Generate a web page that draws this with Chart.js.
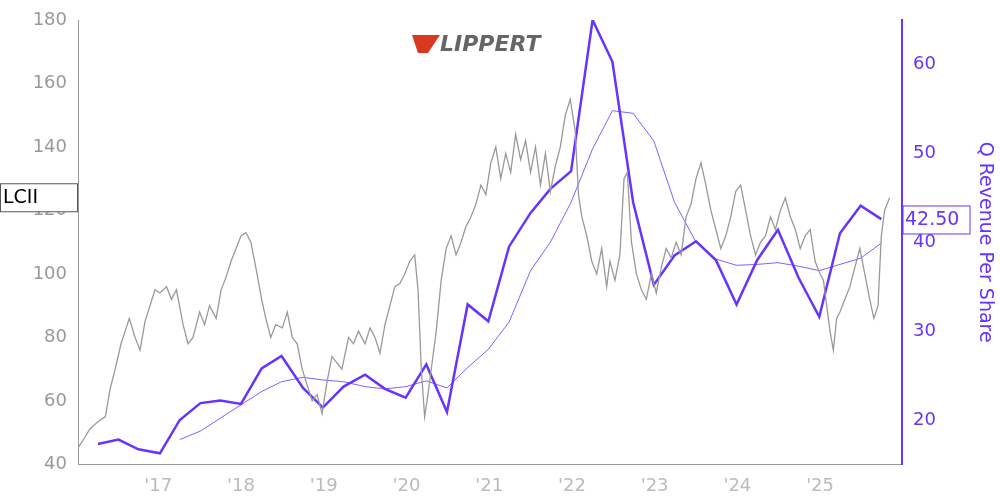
<!DOCTYPE html>
<html><head><meta charset="utf-8">
<script src="https://cdn.jsdelivr.net/npm/chart.js"></script>
<style>body{margin:0;background:#fff}#wrap{width:1000px;height:500px}</style>
</head><body><div id="wrap"><canvas id="c"></canvas></div>
<script>
// price (left axis), approx year positions
const priceX = [2016.0,2016.05,2016.1,2016.17,2016.25,2016.3,2016.36,2016.42,2016.48,2016.55,2016.6,2016.65,2016.72,2016.78,2016.84,2016.9,2016.96,2017.02,2017.1,2017.16,2017.22,2017.3,2017.36,2017.42,2017.5,2017.56,2017.62,2017.7,2017.76,2017.82,2017.88,2017.94,2018.0,2018.06,2018.12,2018.18,2018.25,2018.3,2018.36,2018.42,2018.5,2018.56,2018.62,2018.68,2018.74,2018.8,2018.86,2018.92,2018.98,2019.04,2019.1,2019.16,2019.22,2019.3,2019.36,2019.42,2019.5,2019.56,2019.62,2019.68,2019.74,2019.8,2019.86,2019.92,2019.98,2020.04,2020.1,2020.14,2020.18,2020.22,2020.26,2020.3,2020.36,2020.42,2020.48,2020.54,2020.6,2020.66,2020.72,2020.78,2020.84,2020.9,2020.96,2021.02,2021.08,2021.14,2021.2,2021.26,2021.32,2021.38,2021.44,2021.5,2021.56,2021.62,2021.68,2021.74,2021.8,2021.86,2021.92,2021.98,2022.04,2022.08,2022.12,2022.18,2022.24,2022.3,2022.36,2022.42,2022.46,2022.52,2022.58,2022.63,2022.67,2022.72,2022.78,2022.84,2022.9,2022.96,2023.02,2023.08,2023.14,2023.2,2023.26,2023.32,2023.38,2023.44,2023.5,2023.56,2023.62,2023.68,2023.74,2023.8,2023.86,2023.92,2023.98,2024.04,2024.1,2024.16,2024.22,2024.28,2024.34,2024.4,2024.46,2024.52,2024.58,2024.64,2024.7,2024.76,2024.82,2024.88,2024.94,2025.0,2025.04,2025.08,2025.12,2025.16,2025.2,2025.24,2025.3,2025.36,2025.42,2025.48,2025.54,2025.6,2025.65,2025.7,2025.74,2025.78,2025.84,2025.9,2025.96];
const priceY = [44,46,48,51,53,54,55,64,70,78,82,86,80,76,85,90,95,94,96,92,95,84,78,80,88,84,90,86,95,99,104,108,112,113,110,102,92,86,80,84,83,88,80,78,70,65,60,62,56,66,74,72,70,80,78,82,78,83,80,75,84,90,96,97,100,104,106,95,70,55,62,70,82,98,108,112,106,110,115,118,122,128,125,135,140,130,138,132,144,136,142,132,140,128,138,126,134,140,150,155,145,125,118,112,104,100,108,96,104,98,106,130,132,110,100,95,92,100,94,102,108,105,110,106,118,122,130,135,128,120,114,108,112,118,126,128,120,112,106,110,112,118,114,120,124,118,114,108,112,114,104,100,98,90,82,76,86,88,92,96,102,108,100,92,86,90,112,120,124];
// quarterly revenue per share (right axis)
const revX = [2016.27,2016.52,2016.76,2017.02,2017.26,2017.51,2017.75,2018.0,2018.25,2018.49,2018.75,2018.99,2019.24,2019.5,2019.74,2019.99,2020.24,2020.49,2020.74,2020.99,2021.24,2021.5,2021.74,2021.99,2022.25,2022.49,2022.74,2022.99,2023.24,2023.5,2023.74,2023.99,2024.24,2024.49,2024.74,2024.99,2025.24,2025.49,2025.74];
const revY = [17.3,17.8,16.7,16.25,20.0,21.9,22.2,21.8,25.8,27.2,23.6,21.4,23.75,25.1,23.5,22.5,26.25,20.9,33.0,31.1,39.5,43.3,46.0,48.0,65.0,60.3,44.5,35.2,38.5,40.1,38.0,33.0,38.0,41.4,36.0,31.6,41.0,44.1,42.6];
// trailing average line (starts 2017 Q1)
const avgY = [17.8,18.75,20.2,21.7,23.2,24.3,24.8,24.5,24.3,23.75,23.5,23.75,24.4,23.6,25.9,27.95,31,36.8,40,44.5,50.5,54.8,54.5,51.4,44.5,40,38.1,37.4,37.5,37.7,37.3,36.8,37.5,38.2,39.9];
const yearTicks = [2017,2018,2019,2020,2021,2022,2023,2024,2025];
const leftTicks = [40,60,80,100,120,140,160,180];
const rightTicks = [20,30,40,50,60];
const PURPLE = '#6633ff';

const pts = (xs, ys, off) => ys.map((v, i) => ({x: xs[i + (off || 0)], y: v}));

const extras = {
  id: 'extras',
  afterDraw(ch) {
    const c = ch.ctx, L = ch.scales.y, R = ch.scales.y2;
    c.save();
    // LCII label box
    let y = L.getPixelForValue(124);
    c.fillStyle = '#fff'; c.strokeStyle = '#555'; c.lineWidth = 1;
    c.fillRect(0.5, y - 14, 77, 28); c.strokeRect(0.5, y - 14, 77, 28);
    c.fillStyle = '#000'; c.font = '19px "DejaVu Sans"'; c.textBaseline = 'middle';
    c.fillText('LCII', 3, y);
    // last value box
    y = R.getPixelForValue(42.5);
    c.fillStyle = '#fff'; c.strokeStyle = PURPLE;
    c.fillRect(903, y - 14, 67, 28); c.strokeRect(903, y - 14, 67, 28);
    c.fillStyle = PURPLE; c.fillText('42.50', 905, y);
    // logo
    c.fillStyle = '#d93a1f';
    c.beginPath(); c.moveTo(412, 35); c.lineTo(440, 35); c.lineTo(428, 53); c.lineTo(418, 53); c.closePath(); c.fill();
    c.fillStyle = '#666'; c.font = 'italic bold 22px "DejaVu Sans"';
    c.fillText('LIPPERT', 440, 45);
    c.restore();
  }
};

new Chart(document.getElementById('c'), {
  type: 'line',
  data: { datasets: [
    { data: pts(priceX, priceY), borderColor: '#999', borderWidth: 1.3, pointRadius: 0, yAxisID: 'y', tension: 0 },
    { data: pts(revX, revY), borderColor: PURPLE, borderWidth: 2.5, pointRadius: 0, yAxisID: 'y2', tension: 0 },
    { data: pts(revX, avgY, 4), borderColor: PURPLE, borderWidth: 0.8, pointRadius: 0, yAxisID: 'y2', tension: 0 }
  ]},
  options: {
    responsive: true, maintainAspectRatio: false, animation: false,
    layout: { padding: { top: 20, bottom: 0, left: 0, right: 0 } },
    plugins: { legend: { display: false }, tooltip: { enabled: false } },
    scales: {
      x: { type: 'linear', min: 2016.03, max: 2025.99,
        afterBuildTicks: a => { a.ticks = yearTicks.map(v => ({value: v})); },
        ticks: { color: '#bbb', font: { size: 18, family: 'DejaVu Sans' }, callback: v => "'" + String(v).slice(2) },
        grid: { display: false, drawTicks: true, tickLength: 8, color: '#999' }, border: { color: '#999' } },
      y: { position: 'left', min: 40, max: 180,
        afterBuildTicks: a => { a.ticks = leftTicks.map(v => ({value: v})); },
        afterFit: a => { a.width = 78; },
        ticks: { color: '#999', font: { size: 18, family: 'DejaVu Sans' } },
        grid: { display: false, tickLength: 8 }, border: { color: '#999' } },
      y2: { position: 'right', min: 15, max: 65,
        afterBuildTicks: a => { a.ticks = rightTicks.map(v => ({value: v})); },
        afterFit: a => { a.width = 98; },
        ticks: { color: PURPLE, font: { size: 18, family: 'DejaVu Sans' } },
        title: { display: true, text: 'Q Revenue Per Share', color: PURPLE, font: { size: 19, family: 'DejaVu Sans' } },
        grid: { display: false, tickLength: 8, color: PURPLE }, border: { color: PURPLE, width: 2 } }
    }
  },
  plugins: [extras]
});
</script></body></html>
